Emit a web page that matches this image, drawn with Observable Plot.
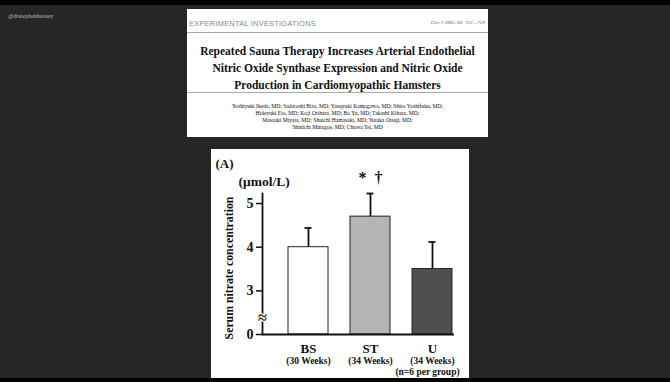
<!DOCTYPE html>
<html><head><meta charset="utf-8">
<script src="https://cdn.jsdelivr.net/npm/d3@7"></script>
<script src="https://cdn.jsdelivr.net/npm/@observablehq/plot@0.6"></script>
<style>
html,body{margin:0;padding:0;background:#000;width:670px;height:382px;overflow:hidden;}
#slide{position:absolute;left:0;top:5px;width:670px;height:373px;background:#262626;}
#mark{position:absolute;left:8px;top:13px;font:6px "Liberation Serif",serif;color:#bbb;}
#paper{position:absolute;left:187px;top:9px;width:301px;height:128px;background:#fff;font-family:"Liberation Serif",serif;color:#111;}
#sec{position:absolute;left:2px;top:10px;font:7.5px "Liberation Sans",sans-serif;color:#888;letter-spacing:0.2px;}
#cite{position:absolute;right:3px;top:11px;font:italic 5px "Liberation Serif",serif;color:#555;}
.hr{position:absolute;left:0;width:301px;height:1px;background:#aaa;}
#title{position:absolute;left:0;top:34px;width:301px;text-align:center;font-weight:bold;font-size:11.5px;line-height:17px;}
#auth{position:absolute;left:0;top:94px;width:301px;text-align:center;font-size:5.6px;line-height:7px;}
#chart{position:absolute;left:211px;top:149px;width:258px;height:229px;background:#fff;}
</style></head>
<body>
<div id="slide"></div>
<div id="mark">@drstephenhussey</div>
<div id="paper">
  <div id="sec">EXPERIMENTAL INVESTIGATIONS</div>
  <div id="cite">Circ J 2005; 69: 722 – 729</div>
  <div class="hr" style="top:23px"></div>
  <div id="title">Repeated Sauna Therapy Increases Arterial Endothelial<br>Nitric Oxide Synthase Expression and Nitric Oxide<br>Production in Cardiomyopathic Hamsters</div>
  <div class="hr" style="top:83px"></div>
  <div id="auth">Yoshiyuki Ikeda, MD; Sadatoshi Biro, MD; Yasuyuki Kamogawa, MD; Shiro Yoshifuku, MD;<br>Hideyuki Eto, MD; Koji Orihara, MD; Bo Yu, MD; Takashi Kihara, MD;<br>Masaaki Miyata, MD; Shuichi Hamasaki, MD; Yutaka Otsuji, MD;<br>Shinichi Minagoe, MD; Chuwa Tei, MD</div>
</div>
<div id="chart"></div>
<script>
const groups = ["BS", "ST", "U"];
const weeks = ["(30 Weeks)", "(34 Weeks)", "(34 Weeks)"];
const means = [4.0, 4.7, 3.5];
const errTops = [4.44, 5.23, 4.12];
const yTickValues = [2, 3, 4, 5];
const yTickLabels = ["0", "3", "4", "5"];
const breakBase = 2;
const breakMark = 2.37;
const panelLabel = "(A)";
const unitLabel = "(μmol/L)";
const signif = "*  †";
const nNote = "(n=6 per group)";
const yTitle = "Serum nitrate concentration";

const data = groups.map((g, i) => ({g, w: weeks[i], mean: means[i], top: errTops[i]}));
const tickMap = new Map(yTickValues.map((v, i) => [v, yTickLabels[i]]));

const chart = Plot.plot({
  width: 258, height: 229,
  marginLeft: 51, marginRight: 15, marginTop: 44, marginBottom: 44,
  style: {fontFamily: "Liberation Serif, serif", fontWeight: "bold", background: "transparent", color: "#111"},
  x: {domain: groups, range: [51, 267], paddingInner: 0.35, paddingOuter: 0.39, axis: null},
  y: {domain: [breakBase, 5.23], axis: null},
  color: {domain: groups, range: ["#ffffff", "#b4b4b4", "#4f4f4f"]},
  marks: [
    Plot.barY(data, {x: "g", y1: breakBase, y2: "mean", fill: "g", stroke: "#222", strokeWidth: 1}),
    Plot.ruleX(data, {x: "g", y1: "mean", y2: "top", stroke: "#111", strokeWidth: 1.8}),
    Plot.tickY(data, {x: "g", y: "top", stroke: "#111", strokeWidth: 1.8, insetLeft: 16.5, insetRight: 16.5}),
    Plot.axisY({ticks: yTickValues, tickFormat: d => tickMap.get(d), tickSize: 6, tickPadding: 3, fontSize: 14, stroke: "#111", strokeWidth: 1.5}),
    Plot.text([yTitle], {text: d => d, frameAnchor: "left", dx: -33, dy: 4, rotate: -90, textAnchor: "middle", lineAnchor: "middle", fontSize: 11.8}),
    Plot.frame({anchor: "left", stroke: "#111", strokeWidth: 1.8}),
    Plot.ruleY([breakBase], {stroke: "#111", strokeWidth: 1.8}),
    Plot.text([breakMark], {y: d => d, text: () => "≈", frameAnchor: "left", textAnchor: "middle", fontSize: 16, fill: "#111", stroke: "white", strokeWidth: 2.5, paintOrder: "stroke"}),
    Plot.text(data, {x: "g", text: "g", frameAnchor: "bottom", dy: 18, fontSize: 13}),
    Plot.text(data, {x: "g", text: "w", frameAnchor: "bottom", dy: 29, fontSize: 9.5}),
    Plot.text([nNote], {x: () => "U", text: d => d, frameAnchor: "bottom", dy: 40, dx: -5, fontSize: 9.5}),
    Plot.text([signif], {x: () => "ST", text: d => d, frameAnchor: "top", dy: -22, fontSize: 16}),
    Plot.text([unitLabel], {text: d => d, frameAnchor: "top-left", dx: -24, dy: -17, fontSize: 13.5, textAnchor: "start"}),
    Plot.text([panelLabel], {text: d => d, frameAnchor: "top-left", dx: -47, dy: -35, fontSize: 13, textAnchor: "start"})
  ]
});
document.getElementById("chart").appendChild(chart);
</script>
</body></html>
